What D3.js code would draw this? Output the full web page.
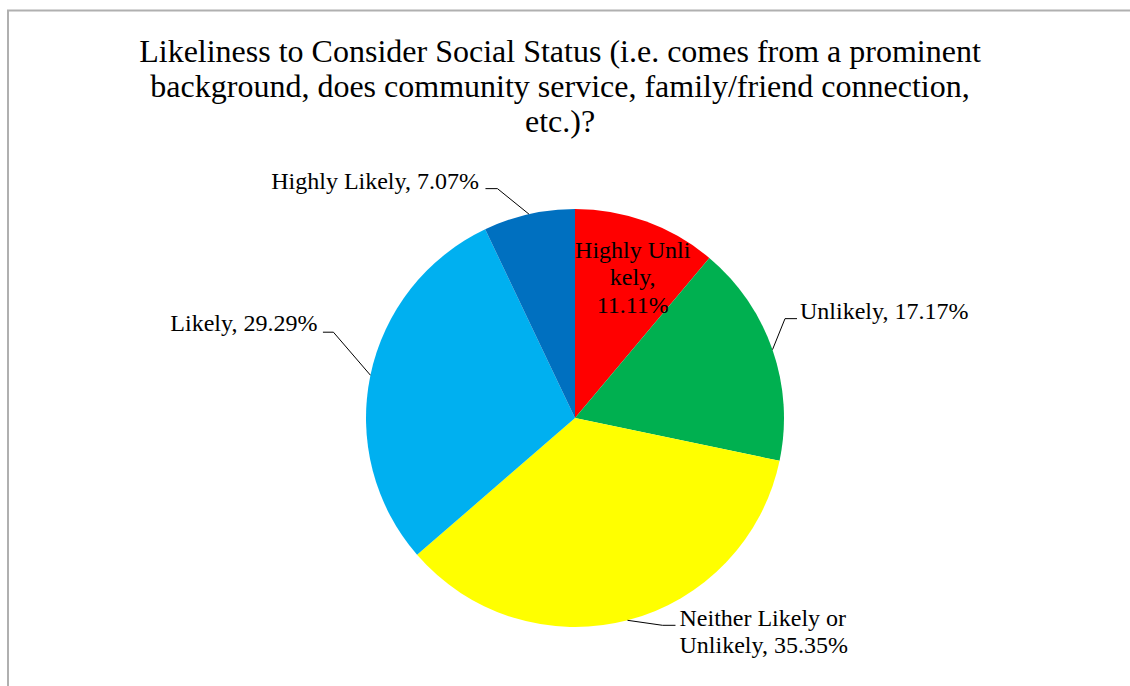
<!DOCTYPE html>
<html>
<head>
<meta charset="utf-8">
<script src="https://cdn.jsdelivr.net/npm/d3@7"></script>
<style>
  html, body { margin: 0; padding: 0; background: #fff; }
  svg { display: block; }
  text { font-family: "Liberation Serif", "Times New Roman", serif; fill: #000; }
</style>
</head>
<body>
<svg id="chart" width="1130" height="686"></svg>
<script>
// Survey answers, in drawing order (clockwise from 12 o'clock)
const categories = ["Highly Unlikely", "Unlikely", "Neither Likely or Unlikely", "Likely", "Highly Likely"];
const percents = [11.11, 17.17, 35.35, 29.29, 7.07];
const sliceColors = ["#FF0000", "#00B050", "#FFFF00", "#00B0F0", "#0070C0"];
// Label text as wrapped lines
const labelLines = [
  ["Highly Unli", "kely,", "11.11%"],
  ["Unlikely, 17.17%"],
  ["Neither Likely or", "Unlikely, 35.35%"],
  ["Likely, 29.29%"],
  ["Highly Likely, 7.07%"]
];
const titleLines = [
  "Likeliness to Consider Social Status (i.e. comes from a prominent",
  "background, does community service, family/friend connection,",
  "etc.)?"
];

const svg = d3.select("#chart");
const cx = 575, cy = 418, r = 209;

// Chart area frame
svg.append("rect")
  .attr("x", 8).attr("y", 10.5)
  .attr("width", 1200).attr("height", 800)
  .attr("fill", "#fff")
  .attr("stroke", "#b0b0b0").attr("stroke-width", 2);

// Title
svg.append("g").selectAll("text")
  .data(titleLines)
  .join("text")
  .attr("x", 560)
  .attr("y", (d, i) => 62 + i * 35)
  .attr("text-anchor", "middle")
  .style("font-size", "32px")
  .text(d => d);

const pie = d3.pie().sort(null).value(d => d);
const arcs = pie(percents);
const arc = d3.arc().innerRadius(0).outerRadius(r);
const edge = d3.arc().innerRadius(r).outerRadius(r);

const g = svg.append("g").attr("transform", `translate(${cx},${cy})`);
g.selectAll("path.slice")
  .data(arcs)
  .join("path")
  .attr("class", "slice")
  .attr("d", arc)
  .attr("fill", (d, i) => sliceColors[i]);

// Label placement: leader elbow / text offsets relative to the slice's edge point
// (the inside label is offset from the slice centroid instead)
const labelLayout = [
  { inside: true, tx: 22, ty: -62, lh: 27.5 },
  { elbow: [12.5, -31], end: [24.5, -31], tx: 27.5, ty: -31, anchor: "start" },
  { elbow: [35, 5], end: [48, 5], tx: 52, ty: 5.5, anchor: "start", lh: 27.5 },
  { elbow: [-37, -43], end: [-47.5, -43], tx: -53, ty: -44, anchor: "end" },
  { elbow: [-31.5, -25.5], end: [-43.5, -25.5], tx: -50, ty: -25, anchor: "end" }
];

arcs.forEach((a, i) => {
  const L = labelLayout[i];
  const [ex, ey] = L.inside ? arc.centroid(a) : edge.centroid(a);
  if (!L.inside) {
    g.append("polyline")
      .attr("points", [[ex, ey], L.elbow.map((v, k) => v + (k ? ey : ex)), L.end.map((v, k) => v + (k ? ey : ex))].map(p => p.join(",")).join(" "))
      .attr("fill", "none")
      .attr("stroke", "#000")
      .attr("stroke-width", 1);
  }
  const t = g.append("text")
    .attr("text-anchor", L.inside ? "middle" : L.anchor)
    .style("font-size", "24px");
  labelLines[i].forEach((line, k) => {
    t.append("tspan")
      .attr("x", ex + L.tx)
      .attr("y", ey + L.ty + k * (L.lh || 0))
      .text(line);
  });
});
</script>
</body>
</html>
